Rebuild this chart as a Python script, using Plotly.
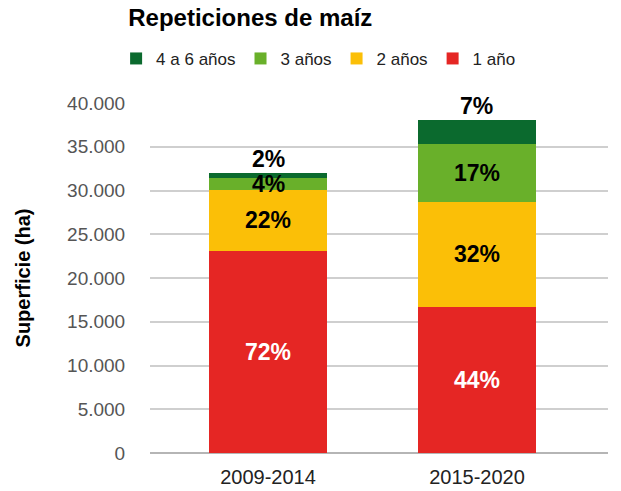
import plotly.graph_objects as go

# Superficie de maíz (ha) por periodo, según años de repetición del cultivo
periodos = ["2009-2014", "2015-2020"]
series = ["1 año", "2 años", "3 años", "4 a 6 años"]
sup_1_ano = [23100, 16700]
sup_2_anos = [6950, 12000]
sup_3_anos = [1400, 6600]
sup_4a6_anos = [600, 2750]
y_ticks = [0, 5000, 10000, 15000, 20000, 25000, 30000, 35000, 40000]

valores = [sup_1_ano, sup_2_anos, sup_3_anos, sup_4a6_anos]
colores = ["#E52624", "#FBBF07", "#69B02A", "#0B6A2E"]
color_texto = ["white", "black", "black", "black"]
FUENTE = "Liberation Sans, Arial, sans-serif"

fig = go.Figure()
for nombre, vals, col in zip(series, valores, colores):
    fig.add_trace(go.Bar(
        x=periodos, y=vals, name=nombre, marker_color=col,
        marker_line_width=0, width=0.565,
    ))

# Etiquetas de porcentaje sobre cada segmento
totales = [sum(v[i] for v in valores) for i in range(len(periodos))]
for i, per in enumerate(periodos):
    base = 0
    for k, vals in enumerate(valores):
        pct = round(100 * vals[i] / totales[i])
        es_ultimo = k == len(valores) - 1
        fig.add_annotation(
            x=per,
            y=totales[i] if es_ultimo else base + vals[i] / 2,
            yanchor="bottom" if es_ultimo else "middle",
            yshift=-1 if es_ultimo else 0,
            text=f"<b>{pct}%</b>",
            showarrow=False,
            font=dict(family=FUENTE, size=23,
                      color="black" if es_ultimo else color_texto[k]),
        )
        base += vals[i]

fig.update_layout(
    width=621, height=491,
    margin=dict(l=150, r=13, t=103, b=38),
    paper_bgcolor="white", plot_bgcolor="white",
    barmode="stack",
    separators=",.",
    title=dict(text="<b>Repeticiones de maíz</b>", x=0.403, xanchor="center",
               y=0.965, yanchor="middle",
               font=dict(family=FUENTE, size=24, color="black")),
    legend=dict(orientation="h", traceorder="reversed",
                x=-0.074, xanchor="left", y=1.126, yanchor="middle",
                font=dict(family=FUENTE, size=17, color="#222"),
                bgcolor="rgba(0,0,0,0)"),
    xaxis=dict(range=[-0.565, 1.627], showgrid=False, showline=False,
               automargin=False,
               ticks="outside", ticklen=6, tickcolor="rgba(0,0,0,0)",
               tickfont=dict(family=FUENTE, size=20, color="#222")),
    yaxis=dict(range=[0, 40000], tickvals=y_ticks, tickformat=",d",
               automargin=False,
               showgrid=True, gridcolor="#cfcfcf", gridwidth=1.5,
               zeroline=True, zerolinecolor="#b5b5b5", zerolinewidth=1.5,
               ticks="outside", ticklen=20, tickcolor="rgba(0,0,0,0)",
               tickfont=dict(family=FUENTE, size=19, color="#555"),
               title=dict(text="<b>Superficie (ha)</b>", standoff=31,
                          font=dict(family=FUENTE, size=20, color="black"))),
)

fig.write_html("out.html")
